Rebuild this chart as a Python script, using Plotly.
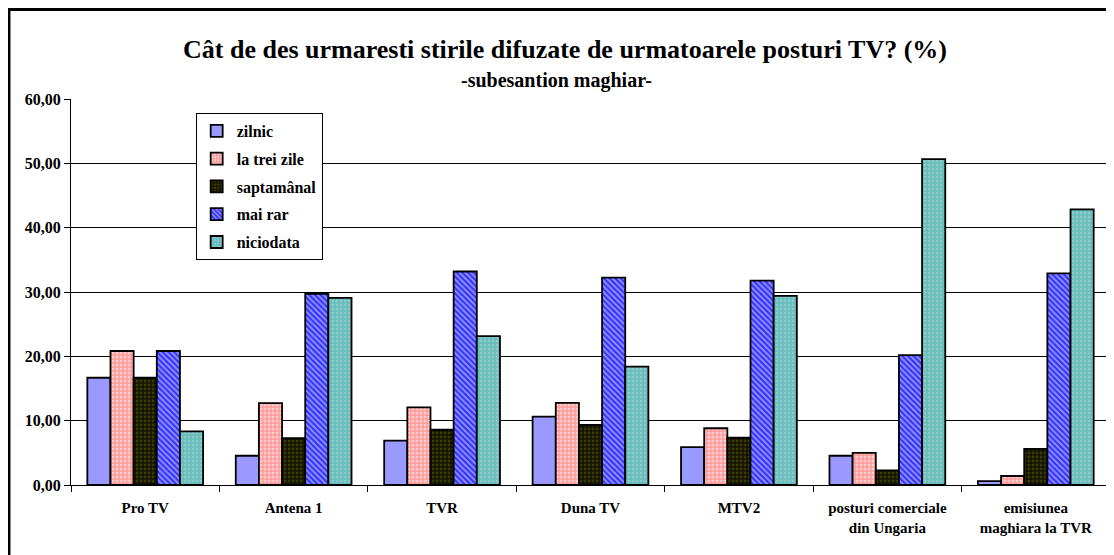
import plotly.graph_objects as go

categories = ["Pro TV", "Antena 1", "TVR", "Duna TV", "MTV2",
              "posturi comerciale<br>din Ungaria", "emisiunea<br>maghiara la TVR"]
series_names = ["zilnic", "la trei zile", "saptamânal", "mai rar", "niciodata"]

zilnic = [16.67, 4.55, 6.90, 10.64, 5.88, 4.55, 0.60]
la_trei_zile = [20.83, 12.73, 12.07, 12.77, 8.82, 5.00, 1.40]
saptamanal = [16.67, 7.27, 8.62, 9.36, 7.35, 2.27, 5.60]
mai_rar = [20.83, 29.70, 33.19, 32.23, 31.76, 20.20, 32.90]
niciodata = [8.33, 29.09, 23.14, 18.40, 29.41, 50.66, 42.85]

y_ticks = [0, 10, 20, 30, 40, 50, 60]

values = [zilnic, la_trei_zile, saptamanal, mai_rar, niciodata]

# fill colour and pattern for each series
styles = [
    dict(color="#9999FF", pattern=dict(shape="")),
    dict(color="#FF9A9A", pattern=dict(shape=".", fgcolor="#FFFFFF", size=4, solidity=0.45)),
    dict(color="#111100", pattern=dict(shape=".", fgcolor="#666600", size=4, solidity=0.4)),
    dict(color="#3333FF", pattern=dict(shape="\\", fgcolor="#FFFFFF", size=4, solidity=0.45)),
    dict(color="#66BBBB", pattern=dict(shape=".", fgcolor="#B0DCDC", size=4, solidity=0.4)),
]

font_family = "Liberation Serif"

fig = go.Figure()
for name, vals, st in zip(series_names, values, styles):
    fig.add_trace(go.Bar(
        x=categories,
        y=vals,
        name="<b>" + name + "</b>",
        legendgroup=name,
        marker=dict(color=st["color"], pattern=st["pattern"],
                    line=dict(color="#000000", width=1.8)),
    ))

# the page has an 8px body margin, so the figure is a bit smaller and margins shifted
fig.update_layout(
    width=1106,
    height=547,
    margin=dict(l=63, r=4, t=91, b=70),
    paper_bgcolor="white",
    plot_bgcolor="white",
    barmode="group",
    bargap=0.22,
    bargroupgap=0,
    font=dict(family=font_family, size=15, color="black"),
    legend=dict(
        x=0.12, y=0.964, xanchor="left", yanchor="top",
        bgcolor="white", bordercolor="#000000", borderwidth=1,
        font=dict(family=font_family, size=16, color="black"),
        tracegroupgap=4,
    ),
    xaxis=dict(
        showline=True, linecolor="black", linewidth=1,
        ticks="outside", tickson="boundaries", ticklen=6, tickcolor="black",
        tickvals=categories,
        ticktext=["<b>" + c + "</b>" for c in categories],
        tickfont=dict(family=font_family, size=15, color="black"),
        ticklabelstandoff=9,
        showgrid=False,
    ),
    yaxis=dict(
        range=[0, 60],
        tickvals=y_ticks,
        ticktext=["<b>" + ("%.2f" % v).replace(".", ",") + "</b>" for v in y_ticks],
        showline=True, linecolor="black", linewidth=1,
        ticks="outside", ticklen=6, tickcolor="black",
        showgrid=True, gridcolor="black", gridwidth=1,
        zeroline=False,
        tickfont=dict(family=font_family, size=16, color="black"),
    ),
)

# title and subtitle
fig.add_annotation(
    text="<b>Cât de des urmaresti stirile difuzate de urmatoarele posturi TV? (%)</b>",
    xref="paper", yref="paper", x=0.475, y=1.127, xanchor="center", yanchor="middle",
    showarrow=False, font=dict(family=font_family, size=26, color="black"),
)
fig.add_annotation(
    text="<b>-subesantion maghiar-</b>",
    xref="paper", yref="paper", x=0.467, y=1.049, xanchor="center", yanchor="middle",
    showarrow=False, font=dict(family=font_family, size=20, color="black"),
)

# outer chart frame
fig.add_shape(type="rect", xref="paper", yref="paper",
              x0=-0.0597, x1=1.02, y0=-0.3, y1=1.232,
              line=dict(color="black", width=3), layer="above")

fig.write_html("out.html")
